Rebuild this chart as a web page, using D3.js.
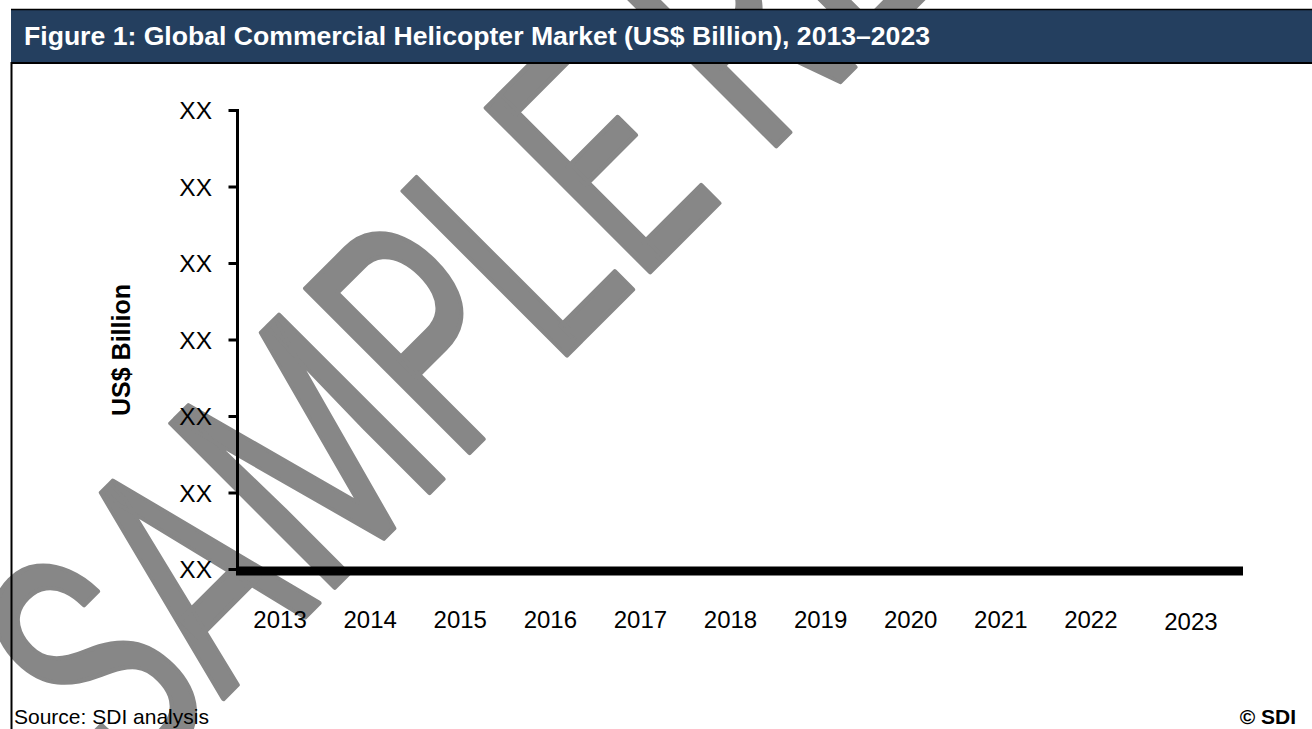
<!DOCTYPE html>
<html>
<head>
<meta charset="utf-8">
<script src="https://cdn.jsdelivr.net/npm/d3@7"></script>
<style>
  html, body { margin: 0; padding: 0; background: #ffffff; }
  svg { display: block; }
</style>
</head>
<body>
<script>
// ---------------- data ----------------
const titleText = "Figure 1: Global Commercial Helicopter Market (US$ Billion), 2013–2023";
const years = ["2013", "2014", "2015", "2016", "2017", "2018", "2019", "2020", "2021", "2022", "2023"];
const yTickValues = [0, 1, 2, 3, 4, 5, 6];
const yTickLabels = ["XX", "XX", "XX", "XX", "XX", "XX", "XX"];
const yAxisTitle = "US$ Billion";
const sourceText = "Source: SDI analysis";
const copyrightText = "© SDI";
const watermarkText = "SAMPLE REPORT";

// ---------------- layout ----------------
const W = 1312, H = 729;
const FONT = "'Liberation Sans', Arial, Helvetica, sans-serif";

const svg = d3.select("body").append("svg")
  .attr("width", W).attr("height", H)
  .attr("viewBox", `0 0 ${W} ${H}`);

svg.append("rect").attr("width", W).attr("height", H).attr("fill", "#ffffff");

// watermark (under everything else)
svg.append("text")
  .attr("transform", "translate(129,793) rotate(-45) scale(0.67,1)")
  .attr("font-family", "Roboto, 'Open Sans', 'DejaVu Sans', sans-serif")
  .attr("font-size", 326)
  .attr("fill", "#878787")
  .attr("stroke", "#878787")
  .attr("stroke-width", 5)
  .attr("stroke-linejoin", "round")
  .text(watermarkText);

// scales
const y = d3.scaleLinear().domain([0, 6]).range([569, 110]);
const x = d3.scaleBand().domain(years).range([235, 1226]);
const axisX0 = 237.5, axisXEnd = 1243, baseY = 571;

// y axis
const yAxis = svg.append("g")
  .attr("transform", `translate(${axisX0},0)`)
  .call(d3.axisLeft(y)
    .tickValues(yTickValues)
    .tickFormat((d, i) => yTickLabels[i])
    .tickSize(9)
    .tickSizeOuter(0)
    .tickPadding(16.5));
yAxis.select(".domain").attr("stroke", "#000").attr("stroke-width", 3)
  .attr("d", `M0,${baseY}V${y(6) - 1}`);
yAxis.selectAll(".tick line").attr("stroke", "#000").attr("stroke-width", 3);
yAxis.selectAll(".tick text")
  .attr("font-family", FONT).attr("font-size", 24.5).attr("fill", "#000")
  .attr("dy", "0.36em");

// x axis
const xAxis = svg.append("g")
  .attr("transform", `translate(0,${baseY})`)
  .call(d3.axisBottom(x).tickSize(0).tickPadding(40));
xAxis.select(".domain").remove();
xAxis.selectAll(".tick text")
  .attr("font-family", FONT).attr("font-size", 24).attr("fill", "#000");
xAxis.selectAll(".tick").filter(d => d === years[years.length - 1])
  .select("text").attr("x", 10).attr("y", 42);

// thick baseline
svg.append("line")
  .attr("x1", axisX0 - 1.5).attr("x2", axisXEnd)
  .attr("y1", baseY).attr("y2", baseY)
  .attr("stroke", "#000").attr("stroke-width", 9);

// y axis title
svg.append("text")
  .attr("transform", `translate(130,350) rotate(-90)`)
  .attr("text-anchor", "middle")
  .attr("font-family", FONT).attr("font-weight", "bold")
  .attr("font-size", 25).attr("fill", "#000")
  .text(yAxisTitle);

// header
svg.append("rect").attr("x", 11).attr("y", 10).attr("width", W - 11).attr("height", 52)
  .attr("fill", "#243f5f");
svg.append("line").attr("x1", 11).attr("x2", W).attr("y1", 9.5).attr("y2", 9.5)
  .attr("stroke", "#000").attr("stroke-width", 1.5);
svg.append("line").attr("x1", 11).attr("x2", W).attr("y1", 63).attr("y2", 63)
  .attr("stroke", "#000").attr("stroke-width", 2);
svg.append("text")
  .attr("x", 24).attr("y", 45)
  .attr("font-family", FONT).attr("font-weight", "bold")
  .attr("font-size", 26.6).attr("fill", "#ffffff")
  .text(titleText);

// left border
svg.append("line").attr("x1", 11.5).attr("x2", 11.5).attr("y1", 62).attr("y2", H)
  .attr("stroke", "#000").attr("stroke-width", 2);

// footer
svg.append("text")
  .attr("x", 14).attr("y", 724)
  .attr("font-family", FONT).attr("font-size", 21).attr("fill", "#000")
  .text(sourceText);
svg.append("text")
  .attr("x", 1296).attr("y", 724)
  .attr("text-anchor", "end")
  .attr("font-family", FONT).attr("font-weight", "bold")
  .attr("font-size", 21).attr("fill", "#000")
  .text(copyrightText);
</script>
</body>
</html>
